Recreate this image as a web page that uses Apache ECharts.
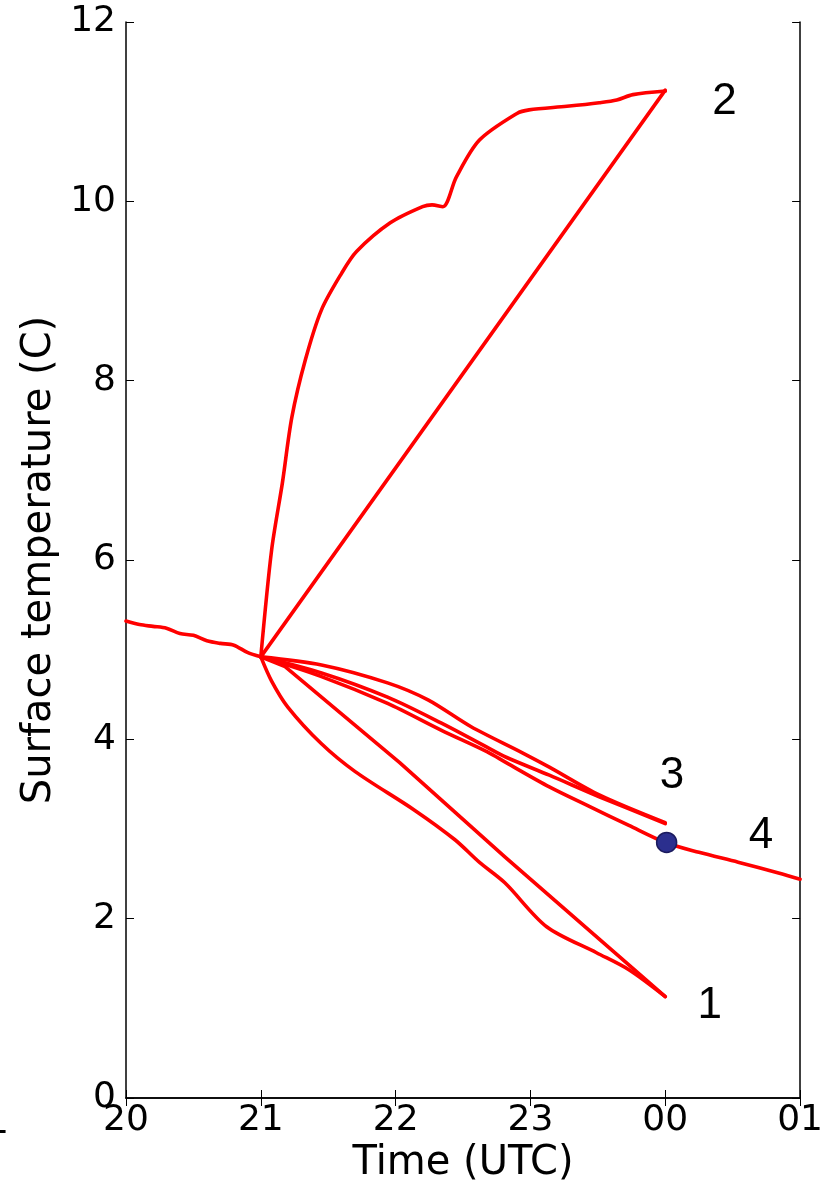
<!DOCTYPE html>
<html>
<head>
<meta charset="utf-8">
<script src="https://cdn.jsdelivr.net/npm/echarts@6/dist/echarts.min.js"></script>
<style>html,body{margin:0;padding:0;background:#fff;}#c{width:826px;height:1193px;}</style>
</head>
<body>
<div id="c"></div>
<script>
// x in hours since 00 UTC of the first day (24 = 00, 25 = 01)
const xTicks = [20, 21, 22, 23, 24, 25];
const xTickLabels = ['20', '21', '22', '23', '00', '01'];
const yTicks = [0, 2, 4, 6, 8, 10, 12];

const spinupT = [20.0, 20.1, 20.2, 20.3, 20.4, 20.5, 20.6, 20.7, 20.8, 20.9, 21.0];
const spinupV = [5.32, 5.28, 5.26, 5.24, 5.18, 5.16, 5.10, 5.07, 5.05, 4.97, 4.92];

const run1aT = [21.0, 21.18, 22.03, 22.81, 24.0];
const run1aV = [4.92, 4.81, 3.74, 2.69, 1.13];
const run1bT = [21.0, 21.08, 21.2, 21.45, 21.7, 22.14, 22.44, 22.62, 22.81, 23.12, 23.49, 23.73, 24.0];
const run1bV = [4.92, 4.65, 4.36, 3.95, 3.64, 3.21, 2.88, 2.63, 2.40, 1.91, 1.62, 1.43, 1.13];

const run2aT = [21.0, 24.0];
const run2aV = [4.92, 11.24];
const run2bT = [21.0, 21.08, 21.16, 21.23, 21.33, 21.45, 21.6, 21.71, 21.96, 22.2, 22.27, 22.35, 22.45, 22.62, 22.9, 22.99, 23.27, 23.51, 23.64, 23.76, 24.0];
const run2bV = [4.92, 6.11, 6.86, 7.59, 8.23, 8.79, 9.2, 9.44, 9.76, 9.94, 9.96, 9.94, 10.27, 10.68, 10.98, 11.02, 11.06, 11.10, 11.13, 11.19, 11.23];

const run3aT = [21.0, 21.45, 21.94, 22.24, 22.56, 22.94, 23.14, 23.51, 24.0];
const run3aV = [4.92, 4.83, 4.63, 4.44, 4.14, 3.85, 3.69, 3.38, 3.07];
const run3bT = [21.0, 21.45, 21.94, 22.34, 22.68, 22.82, 23.14, 23.51, 24.0];
const run3bV = [4.92, 4.74, 4.47, 4.18, 3.91, 3.80, 3.60, 3.36, 3.06];

const run4T = [21.0, 21.45, 21.94, 22.34, 22.68, 22.82, 23.14, 23.44, 23.73, 24.0, 24.25, 24.54, 24.84, 25.0];
const run4V = [4.92, 4.70, 4.40, 4.10, 3.86, 3.74, 3.47, 3.25, 3.04, 2.85, 2.74, 2.63, 2.51, 2.44];

const dotPoint = [24.01, 2.85];

const annoText = ['2', '3', '4', '1'];
const annoX = [24.44, 24.05, 24.71, 24.33];
const annoY = [11.11, 3.59, 2.92, 1.03];

const zip = (t, v) => t.map((x, i) => [x, v[i]]);
const RED = '#ff0000';
function lineSeries(t, v, smooth) {
  return {
    type: 'line', data: zip(t, v), showSymbol: false, symbol: 'none',
    smooth: smooth ? 0.3 : false,
    lineStyle: { color: RED, width: 3.6, cap: 'round', join: 'round' }, z: 2, silent: true
  };
}
const tickFont = { fontFamily: 'DejaVu Sans', fontSize: 36, color: '#000' };
const axisLineStyle = { show: true, lineStyle: { color: '#000', width: 1.5 } };
const tickStyle = { show: true, inside: true, length: 8, lineStyle: { color: '#000', width: 1 } };

const chart = echarts.init(document.getElementById('c'), null, { renderer: 'canvas' });
chart.setOption({
  animation: false,
  backgroundColor: '#fff',
  grid: { left: 126, right: 25, top: 22, bottom: 95, containLabel: false },
  xAxis: [{
    type: 'value', min: 20, max: 25, interval: 1, position: 'bottom',
    name: 'Time (UTC)', nameLocation: 'middle', nameGap: 45,
    nameTextStyle: { fontFamily: 'DejaVu Sans', fontSize: 40, color: '#000' },
    axisLine: axisLineStyle, axisTick: tickStyle, splitLine: { show: false },
    axisLabel: Object.assign({ margin: 5, formatter: v => xTickLabels[xTicks.indexOf(v)] }, tickFont)
  }, {
    type: 'value', min: 20, max: 25, interval: 1, position: 'top',
    axisLine: axisLineStyle, axisTick: tickStyle, splitLine: { show: false },
    axisLabel: { show: false }
  }],
  yAxis: [{
    type: 'value', min: 0, max: 12, interval: 2, position: 'left',
    name: 'Surface temperature (C)', nameLocation: 'middle', nameGap: 66,
    nameTextStyle: { fontFamily: 'DejaVu Sans', fontSize: 40, color: '#000' },
    axisLine: axisLineStyle, axisTick: tickStyle, splitLine: { show: false },
    axisLabel: Object.assign({ margin: 10, formatter: v => (yTicks.indexOf(v) >= 0 ? String(v) : '') }, tickFont)
  }, {
    type: 'value', min: 0, max: 12, interval: 2, position: 'right',
    axisLine: axisLineStyle, axisTick: tickStyle, splitLine: { show: false },
    axisLabel: { show: false }
  }],
  graphic: [{
    type: 'text', left: -14, top: 1106,
    style: { text: '1', fontFamily: 'DejaVu Sans', fontSize: 36, fill: '#000' }
  }],
  series: [
    lineSeries(spinupT, spinupV, true),
    lineSeries(run1aT, run1aV, false),
    lineSeries(run1bT, run1bV, true),
    lineSeries(run2aT, run2aV, false),
    lineSeries(run2bT, run2bV, true),
    lineSeries(run3aT, run3aV, true),
    lineSeries(run3bT, run3bV, true),
    lineSeries(run4T, run4V, true),
    {
      type: 'scatter', data: [dotPoint], symbol: 'circle', symbolSize: 20, z: 5,
      itemStyle: { color: '#2b2f8e', borderColor: '#1b1b5e', borderWidth: 1.5, opacity: 1 },
      silent: true
    },
    {
      type: 'scatter', symbolSize: 0, z: 6, silent: true,
      itemStyle: { opacity: 1 },
      data: annoText.map((t, i) => ({ value: [annoX[i], annoY[i]], name: t })),
      label: {
        show: true, position: 'inside', formatter: p => p.name,
        fontFamily: 'Liberation Sans', fontSize: 44, color: '#000', opacity: 1
      }
    }
  ]
});
</script>
</body>
</html>
